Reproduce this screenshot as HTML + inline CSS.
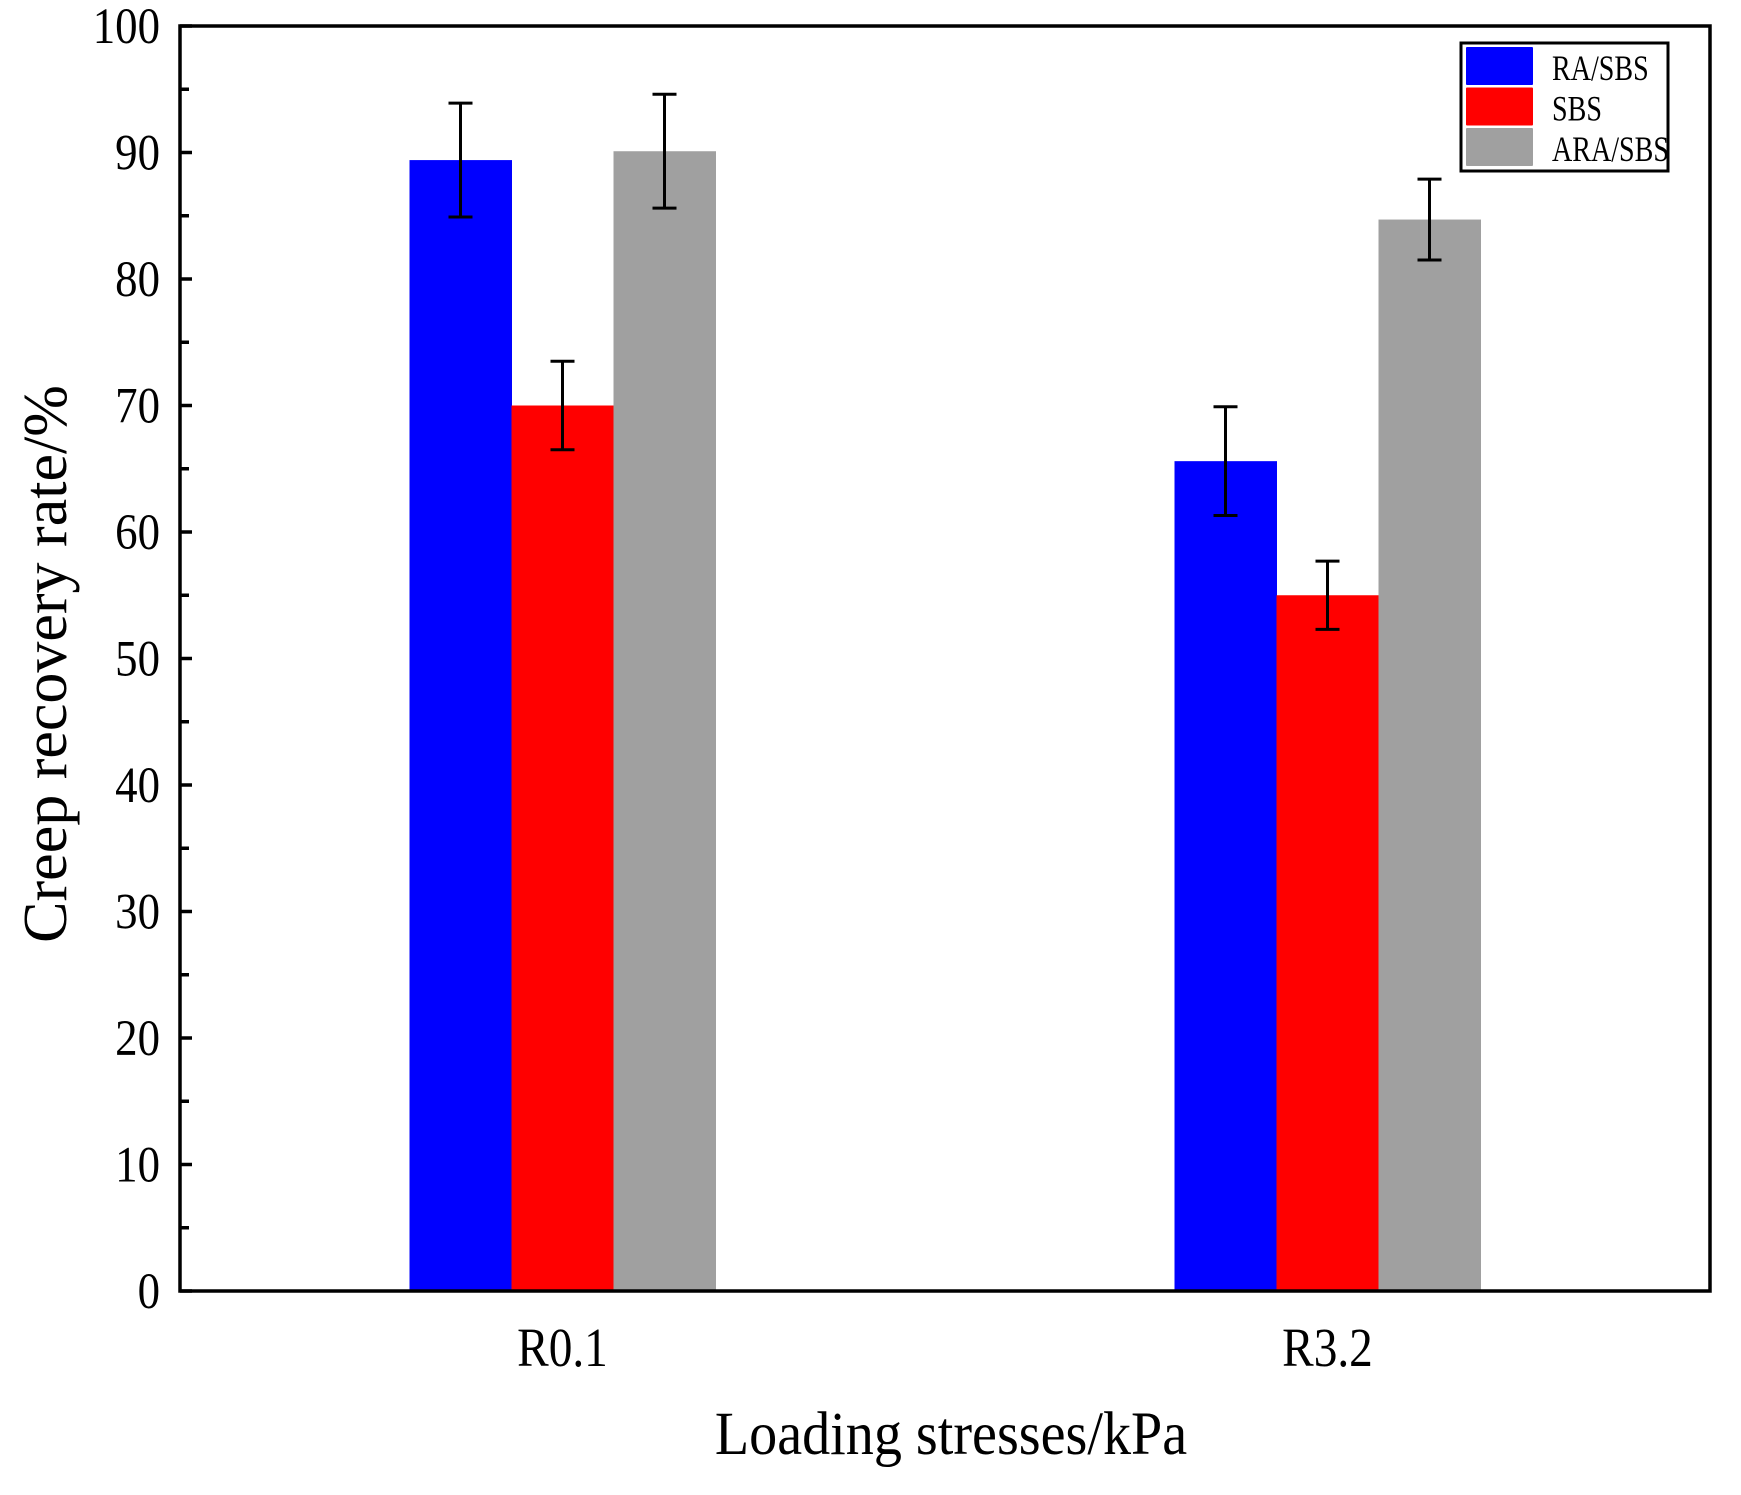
<!DOCTYPE html>
<html><head><meta charset="utf-8"><style>html,body{margin:0;padding:0;background:#fff}svg{display:block}text{font-family:"Liberation Serif",serif;fill:#000}</style></head>
<body>
<svg id="chart" width="1741" height="1495" viewBox="0 0 1741 1495" xmlns="http://www.w3.org/2000/svg">
<g id="bars"></g>
<g id="axes"></g>
<g id="legend"></g>
</svg>
<script>
const categories = ["R0.1", "R3.2"];
const seriesNames = ["RA/SBS", "SBS", "ARA/SBS"];
const seriesColors = ["#0000ff", "#ff0000", "#a0a0a0"];
const raSbs = [89.4, 65.6];
const sbs = [70.0, 55.0];
const araSbs = [90.1, 84.7];
const raSbsErr = [4.5, 4.3];
const sbsErr = [3.5, 2.7];
const araSbsErr = [4.5, 3.2];
const yTicks = [0, 10, 20, 30, 40, 50, 60, 70, 80, 90, 100];

const NS = "http://www.w3.org/2000/svg";
const L = 180, R = 1710, T = 26, B = 1291;
const yMin = 0, yMax = 100;
const y = v => B - (v - yMin) / (yMax - yMin) * (B - T);
const band = (R - L) / categories.length;
const xCenter = i => L + band * (i + 0.5);
const barW = band * 0.4 / 3;
function el(tag, attrs, parent) { const e = document.createElementNS(NS, tag); for (const k in attrs) e.setAttribute(k, attrs[k]); parent.appendChild(e); return e; }
const barsG = document.getElementById('bars');
const axesG = document.getElementById('axes');
const legG = document.getElementById('legend');
const values = [raSbs, sbs, araSbs];
const errs = [raSbsErr, sbsErr, araSbsErr];
const keys = ["ra-sbs", "sbs", "ara-sbs"];

values.forEach((vals, s) => {
  vals.forEach((v, i) => {
    const x0 = xCenter(i) + (s - 1.5) * barW;
    const r = el('rect', {x: x0, y: y(v), width: barW + 0.5, height: B - y(v), fill: seriesColors[s]}, barsG);
    
    
  });
});
values.forEach((vals, s) => {
  vals.forEach((v, i) => {
    const cx = xCenter(i) + (s - 1) * barW;
    const e = errs[s][i];
    const g = el('g', {stroke: '#000', 'stroke-width': 3}, barsG);
    
    
    el('line', {x1: cx, x2: cx, y1: y(v + e), y2: y(v - e)}, g);
    el('line', {x1: cx - 12, x2: cx + 12, y1: y(v + e), y2: y(v + e)}, g);
    el('line', {x1: cx - 12, x2: cx + 12, y1: y(v - e), y2: y(v - e)}, g);
  });
});

const frame = el('rect', {x: L, y: T, width: R - L, height: B - T, fill: 'none', stroke: '#000', 'stroke-width': 3.5}, axesG);


yTicks.forEach(t => {
  const ln = el('line', {x1: L, x2: L + 12, y1: y(t), y2: y(t), stroke: '#000', 'stroke-width': 3.5}, axesG);
  
  
  const tx = el('text', {x: 0, y: 0, 'font-size': 51, 'text-anchor': 'end', transform: 'translate(160,' + (y(t) + 17) + ') scale(0.88,1)'}, axesG);
  tx.textContent = t;
  
  
});
for (let t = 5; t < 100; t += 10) {
  const ln = el('line', {x1: L, x2: L + 9, y1: y(t), y2: y(t), stroke: '#000', 'stroke-width': 3.5}, axesG);
  
  
}
categories.forEach((c, i) => {
  const tx = el('text', {x: 0, y: 0, 'font-size': 55, 'text-anchor': 'middle', transform: 'translate(' + xCenter(i) + ',1366) scale(0.86,1)'}, axesG);
  tx.textContent = c;
  
  
});
const xt = el('text', {x: 0, y: 0, 'font-size': 61, 'text-anchor': 'middle', transform: 'translate(951,1454) scale(0.92,1)'}, axesG);
xt.textContent = 'Loading stresses/kPa';


const yt = el('text', {x: 0, y: 0, 'font-size': 62, 'text-anchor': 'middle', transform: 'translate(66,664) rotate(-90) scale(1.0,1)'}, axesG);
yt.textContent = 'Creep recovery rate/%';



const lb = el('rect', {x: 1461, y: 43, width: 207, height: 128, fill: '#fff', stroke: '#000', 'stroke-width': 3}, legG);


seriesNames.forEach((n, s) => {
  const g = el('g', {}, legG);
  
  
  el('rect', {x: 1466, y: 47 + s * 40.5, width: 67, height: 38, fill: seriesColors[s], rx: 1}, g);
  const tx = el('text', {x: 0, y: 0, 'font-size': 36, transform: 'translate(1552,' + (80 + s * 40.5) + ') scale(0.78,1)'}, g);
  tx.textContent = n;
});
</script>
</body></html>
